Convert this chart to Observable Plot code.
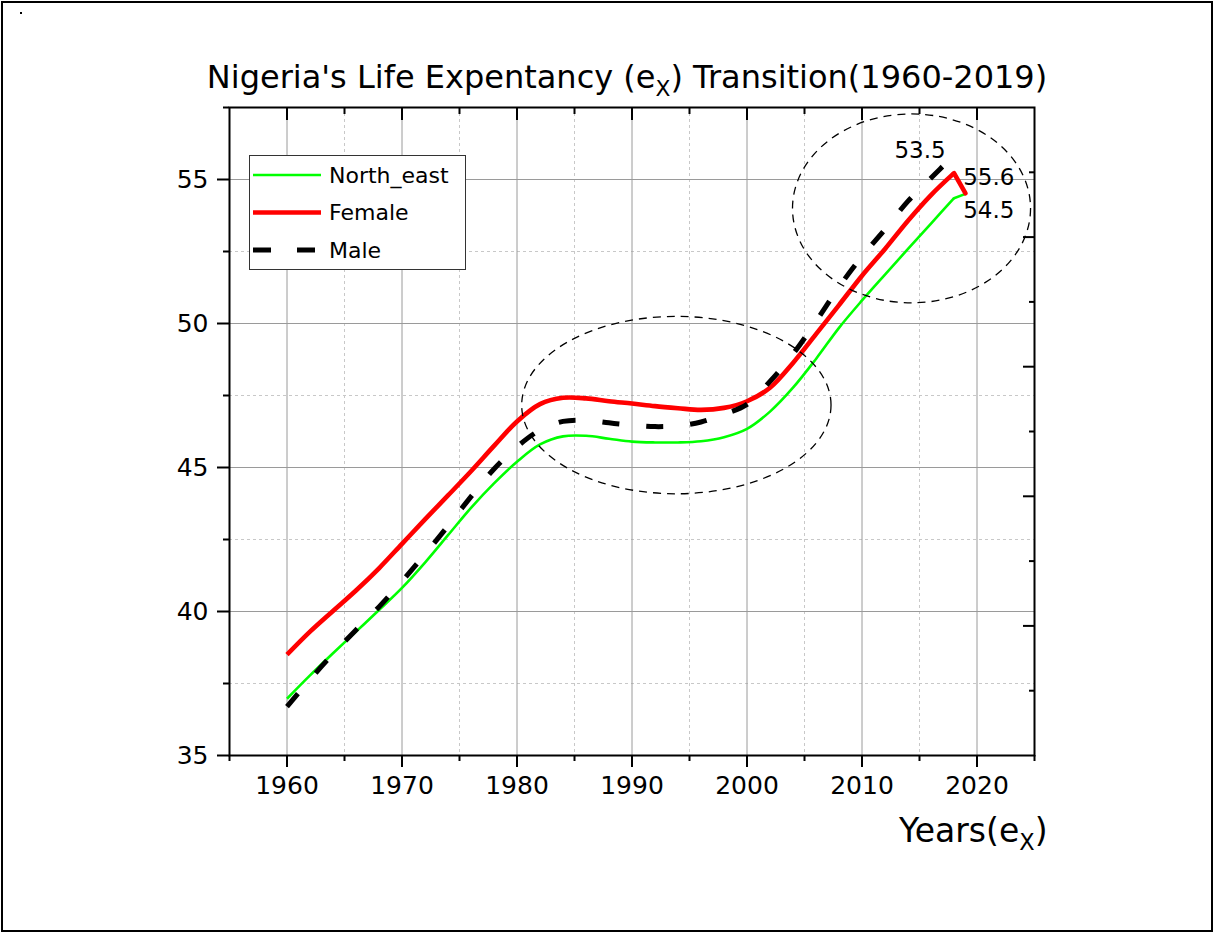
<!DOCTYPE html>
<html>
<head>
<meta charset="utf-8">
<script src="https://cdn.jsdelivr.net/npm/d3@7"></script>
<script src="https://cdn.jsdelivr.net/npm/@observablehq/plot@0.6"></script>
<style>
  html, body { margin: 0; padding: 0; background: #fff; }
  #wrap { position: relative; width: 1215px; height: 934px; overflow: hidden; background: #fff; }
  #border { position: absolute; left: 1px; top: 1px; width: 1212px; height: 931px; border: 2px solid #000; box-sizing: border-box; pointer-events: none; }
  #dot { position: absolute; left: 20px; top: 12px; width: 2px; height: 2px; background: #000; }
  #chart { position: absolute; left: 0; top: 0; }
  #legend { position: absolute; left: 249px; top: 155px; }
</style>
</head>
<body>
<div id="wrap">
  <div id="chart"></div>
  <div id="legend"></div>
  <div id="border"></div>
  <div id="dot"></div>
</div>
<script>
const FONT = '"Comic Sans MS", "DejaVu Sans", sans-serif';

// ---- data ----
const years     = [1960,1962,1964,1966,1968,1970,1972,1974,1976,1978,1980,1982,1984,1986,1988,1990,1992,1994,1996,1998,2000,2002,2004,2006,2008,2010,2012,2014,2016,2018,2019];
const northEast = [36.97,37.78,38.55,39.3,40.05,40.82,41.7,42.65,43.6,44.45,45.2,45.8,46.08,46.1,46.0,45.9,45.87,45.87,45.91,46.05,46.34,46.94,47.77,48.77,49.85,50.8,51.7,52.59,53.47,54.35,54.5];
const female    = [38.5,39.3,40.02,40.73,41.5,42.35,43.2,44.03,44.87,45.75,46.6,47.2,47.42,47.4,47.3,47.22,47.13,47.06,47.0,47.07,47.3,47.77,48.63,49.63,50.64,51.66,52.59,53.57,54.46,55.22,54.52];
const male      = [36.7,37.64,38.53,39.36,40.16,41.05,41.99,42.97,43.99,44.95,45.72,46.3,46.6,46.64,46.55,46.47,46.42,46.45,46.58,46.85,47.19,47.99,48.94,50.07,51.27,52.33,53.27,54.25,55.05,55.85,null];

const seriesNames  = ["North_east", "Female", "Male"];
const seriesColors = ["#00ff00", "#ff0000", "#000000"];

const xMajor = [1960,1970,1980,1990,2000,2010,2020];
const xMinor = [1965,1975,1985,1995,2005,2015];
const xMinorEdge = [1955,2025];
const yMajor = [35,40,45,50,55];
const yMinor = [37.5,42.5,47.5,52.5];
const yMinorEdge = [57.5];
const rightMajor = [39.5,44,48.5,53];
const rightMinor = [37.25,41.75,46.25,50.75,55.25];

const topLabels = [{year: 2015.05, value: 56.0, text: "53.5"}];
const sideLabels = [
  {year: 2018.8, value: 55.05, text: "55.6"},
  {year: 2018.8, value: 53.93, text: "54.5"}
];
const ellipses = [
  {cx: 1993.9, cy: 47.15, rx: 13.45, ry: 3.08},
  {cx: 2014.35, cy: 53.98, rx: 10.35, ry: 3.28}
];

const titleText = "Nigeria's Life Expentancy (e_X) Transition(1960-2019)";
const xLabelText = "Years(e_X)";

// ---- tables ----
const toRows = (vals) => years.map((y, i) => ({year: y, value: vals[i]})).filter(d => d.value != null);
const neRows = toRows(northEast);
const feRows = toRows(female);
const maRows = toRows(male);
const mainPart = rows => rows.filter(d => d.year <= 2018);
const tailPart = rows => rows.filter(d => d.year >= 2018);

function ellipseMark(data) {
  return (index, scales) => {
    const g = d3.create("svg:g");
    for (const e of data) {
      const cx = scales.x(e.cx), cy = scales.y(e.cy);
      const rx = Math.abs(scales.x(e.cx + e.rx) - cx);
      const ry = Math.abs(scales.y(e.cy + e.ry) - cy);
      g.append("ellipse")
        .attr("cx", cx).attr("cy", cy).attr("rx", rx).attr("ry", ry)
        .attr("fill", "none").attr("stroke", "#000").attr("stroke-width", 1.3)
        .attr("stroke-dasharray", "8,6");
    }
    return g.node();
  };
}

const plot = Plot.plot({
  width: 1215,
  height: 934,
  marginLeft: 229,
  marginRight: 181,
  marginTop: 107,
  marginBottom: 179,
  style: {fontFamily: FONT, fontSize: "25px", color: "#000", background: "transparent", overflow: "visible"},
  x: {domain: [1955, 2025]},
  y: {domain: [35, 57.5]},
  marks: [
    Plot.gridX(xMinor, {stroke: "#c8c8c8", strokeOpacity: 1, strokeWidth: 1, strokeDasharray: "3,3"}),
    Plot.gridY(yMinor, {stroke: "#c8c8c8", strokeOpacity: 1, strokeWidth: 1, strokeDasharray: "3,3"}),
    Plot.gridX(xMajor, {stroke: "#9a9a9a", strokeOpacity: 1, strokeWidth: 1}),
    Plot.gridY(yMajor, {stroke: "#9a9a9a", strokeOpacity: 1, strokeWidth: 1}),

    // left axis
    Plot.axisY(yMajor, {anchor: "left", tickSize: 12, tickPadding: 9, strokeWidth: 2, label: null, tickFormat: d => String(d), fontSize: 25}),
    Plot.axisY(yMinor.concat(yMinorEdge), {anchor: "left", tickSize: 6, strokeWidth: 2, label: null, tickFormat: () => ""}),
    // bottom axis
    Plot.axisX(xMajor, {anchor: "bottom", tickSize: 12, tickPadding: 9, strokeWidth: 2, label: null, tickFormat: d => String(d), fontSize: 25}),
    Plot.axisX(xMinor.concat(xMinorEdge), {anchor: "bottom", tickSize: 6, strokeWidth: 2, label: null, tickFormat: () => ""}),
    // top axis (inward)
    Plot.axisX(xMajor, {anchor: "top", tickSize: 12, dy: 12, strokeWidth: 2, label: null, tickFormat: () => ""}),
    Plot.axisX(xMinor, {anchor: "top", tickSize: 6, dy: 6, strokeWidth: 2, label: null, tickFormat: () => ""}),
    // right axis (inward, own spacing)
    Plot.axisY(rightMajor, {anchor: "right", tickSize: 12, dx: -12, strokeWidth: 2, label: null, tickFormat: () => ""}),
    Plot.axisY(rightMinor, {anchor: "right", tickSize: 6, dx: -6, strokeWidth: 2, label: null, tickFormat: () => ""}),

    Plot.frame({stroke: "#000", strokeWidth: 2}),

    // series
    Plot.line(mainPart(neRows), {x: "year", y: "value", stroke: seriesColors[0], strokeWidth: 2.6, curve: "catmull-rom", strokeLinecap: "butt"}),
    Plot.line(tailPart(neRows), {x: "year", y: "value", stroke: seriesColors[0], strokeWidth: 2.6, strokeLinecap: "round"}),
    Plot.line(mainPart(feRows), {x: "year", y: "value", stroke: seriesColors[1], strokeWidth: 4.6, curve: "catmull-rom", strokeLinecap: "butt"}),
    Plot.line(tailPart(feRows), {x: "year", y: "value", stroke: seriesColors[1], strokeWidth: 4.6, strokeLinecap: "round"}),
    Plot.line(maRows, {x: "year", y: "value", stroke: seriesColors[2], strokeWidth: 5, curve: "catmull-rom", strokeDasharray: "17,27", strokeLinecap: "butt"}),

    ellipseMark(ellipses),

    Plot.text(topLabels, {x: "year", y: "value", text: "text", textAnchor: "middle", fontSize: 23, fill: "#000"}),
    Plot.text(sideLabels, {x: "year", y: "value", text: "text", textAnchor: "start", fontSize: 23, fill: "#000"}),

    Plot.text([titleText], {text: d => d, frameAnchor: "top", dy: -42, dx: -5, fontSize: 32, fill: "#000"}),
    Plot.text([xLabelText], {text: d => d, frameAnchor: "bottom-right", textAnchor: "end", dx: 13, dy: 86, fontSize: 33, fill: "#000"})
  ]
});

// subscript "X" in title and axis label
d3.select(plot).selectAll("text").each(function() {
  const t = this.textContent;
  if (t.includes("_X") && this.childElementCount === 0) {
    const [a, b] = t.split("_X");
    const fs = parseFloat(this.getAttribute("font-size") || d3.select(this.parentNode).attr("font-size") || 32);
    const sel = d3.select(this);
    sel.text(null);
    sel.append("tspan").text(a);
    sel.append("tspan").text("X").attr("font-size", fs * 0.68).attr("dy", fs * 0.25);
    sel.append("tspan").text(b).attr("dy", -fs * 0.25);
  }
});

document.getElementById("chart").appendChild(plot);

// ---- legend ----
const lg = d3.select("#legend").append("svg").attr("width", 218).attr("height", 116)
  .style("font-family", FONT).style("display", "block");
lg.append("rect").attr("x", 0.5).attr("y", 0.5).attr("width", 216).attr("height", 114)
  .attr("fill", "#fff").attr("stroke", "#333").attr("stroke-width", 1);
const styles = [
  {w: 2.6, dash: null},
  {w: 4.6, dash: null},
  {w: 5, dash: "18,26"}
];
seriesNames.forEach((name, i) => {
  const cy = 20 + i * 37.5;
  lg.append("line").attr("x1", 4).attr("x2", 72).attr("y1", cy).attr("y2", cy)
    .attr("stroke", seriesColors[i]).attr("stroke-width", styles[i].w)
    .attr("stroke-dasharray", styles[i].dash);
  lg.append("text").attr("x", 80).attr("y", cy).attr("dy", "0.35em")
    .attr("font-size", 22).attr("fill", "#000").text(name);
});
</script>
</body>
</html>
